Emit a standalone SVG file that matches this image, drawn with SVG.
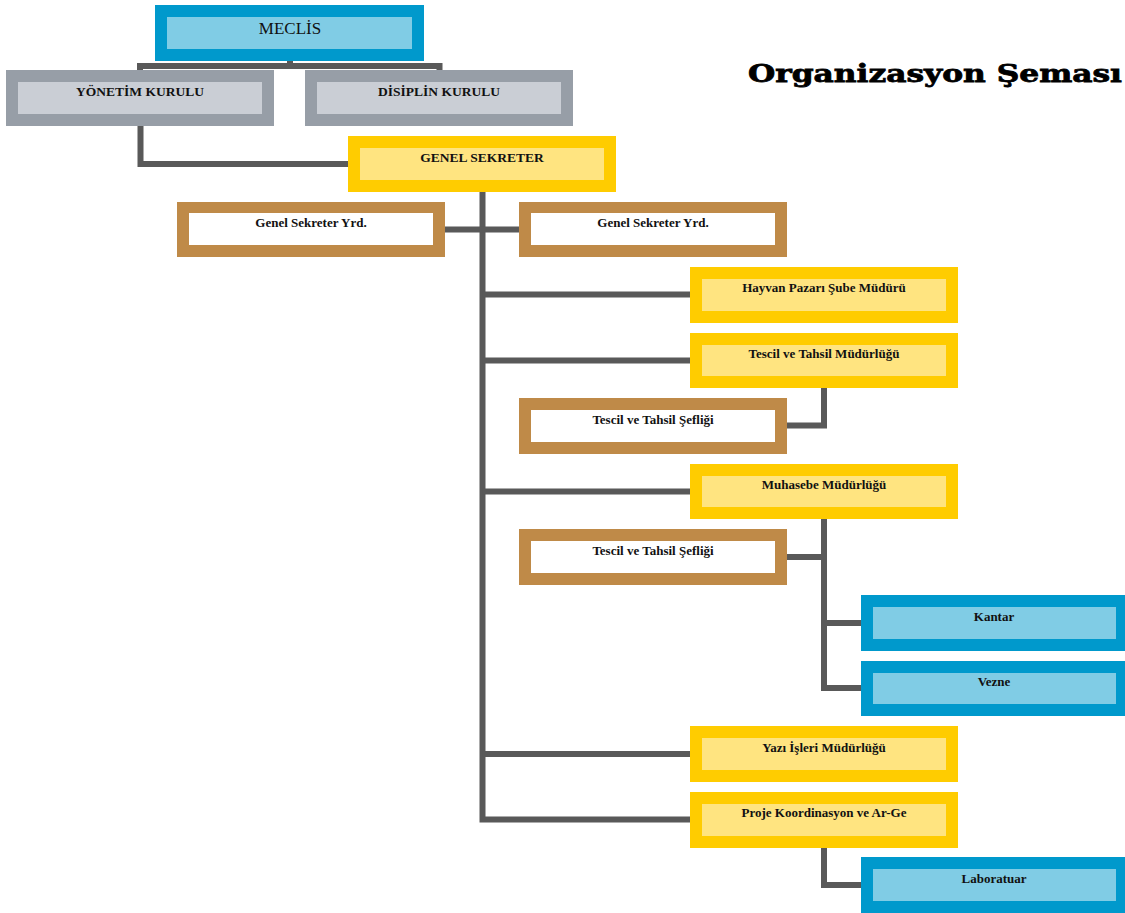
<svg xmlns="http://www.w3.org/2000/svg" width="1125" height="913" viewBox="0 0 1125 913">
<style>
.bg{fill:#ffffff}
.ob{fill:#0099CC}.ib{fill:#80CCE5}
.og{fill:#979EA7}.ig{fill:#CACED5}
.oy{fill:#FFCC00}.iy{fill:#FFE480}
.ow{fill:#BF8A48}.iw{fill:#ffffff}
.t{font-family:"Liberation Serif","Times New Roman",serif;font-weight:bold;font-size:13px;fill:#111;text-anchor:middle}
.tl{font-size:13.5px}
.tm{font-family:"Liberation Serif","Times New Roman",serif;font-size:17px;fill:#111;text-anchor:middle}
.c{fill:none;stroke:#595959;stroke-width:6;stroke-linecap:butt;stroke-linejoin:miter}
.title{font-family:"DejaVu Serif","Liberation Serif",serif;font-weight:bold;font-size:25px;fill:#000;stroke:#000;stroke-width:0.8}
</style>
<rect class="bg" x="0" y="0" width="1125" height="913"/>
<g id="connectors">
<path class="c" d="M140,70 V66 H439.5 V70"/>
<path class="c" d="M290,61 V66"/>
<path class="c" d="M140.5,126 V164 H348"/>
<path class="c" d="M482.5,192 V819.5 H690"/>
<path class="c" d="M445,229.5 H519"/>
<path class="c" d="M482.5,294.5 H690"/>
<path class="c" d="M482.5,360.5 H690"/>
<path class="c" d="M482.5,491.5 H690"/>
<path class="c" d="M482.5,754 H690"/>
<path class="c" d="M824,388 V425.5 H787"/>
<path class="c" d="M824,519 V688 H861"/>
<path class="c" d="M787,557 H824"/>
<path class="c" d="M824,623 H861"/>
<path class="c" d="M824,848 V885 H861"/>
</g>
<g id="meclis"><rect class="ob" x="155" y="5" width="269" height="56"/><rect class="ib" x="167" y="17" width="245" height="32"/><text class="tm" x="290" y="34">MECLİS</text></g>
<g id="yonetim"><rect class="og" x="6" y="70" width="268" height="56"/><rect class="ig" x="18" y="82" width="244" height="32"/><text class="t tl" x="140" y="95.5">YÖNETİM KURULU</text></g>
<g id="disiplin"><rect class="og" x="305" y="70" width="268" height="56"/><rect class="ig" x="317" y="82" width="244" height="32"/><text class="t tl" x="439" y="95.5">DİSİPLİN KURULU</text></g>
<g id="genel"><rect class="oy" x="348" y="136" width="268" height="56"/><rect class="iy" x="360" y="148" width="244" height="32"/><text class="t tl" x="482" y="161.5">GENEL SEKRETER</text></g>
<g id="yrd1"><rect class="ow" x="177" y="202" width="268" height="55"/><rect class="iw" x="189" y="213" width="244" height="32"/><text class="t" x="311" y="227">Genel Sekreter Yrd.</text></g>
<g id="yrd2"><rect class="ow" x="519" y="202" width="268" height="55"/><rect class="iw" x="531" y="213" width="244" height="32"/><text class="t" x="653" y="227">Genel Sekreter Yrd.</text></g>
<g id="hayvan"><rect class="oy" x="690" y="267" width="268" height="56"/><rect class="iy" x="702" y="279" width="244" height="32"/><text class="t" x="824" y="292">Hayvan Pazarı Şube Müdürü</text></g>
<g id="tescilmud"><rect class="oy" x="690" y="333" width="268" height="55"/><rect class="iy" x="702" y="345" width="244" height="31"/><text class="t" x="824" y="358">Tescil ve Tahsil Müdürlüğü</text></g>
<g id="tescilsef1"><rect class="ow" x="519" y="398" width="268" height="56"/><rect class="iw" x="531" y="410" width="244" height="32"/><text class="t" x="653" y="424">Tescil ve Tahsil Şefliği</text></g>
<g id="muhasebe"><rect class="oy" x="690" y="464" width="268" height="55"/><rect class="iy" x="702" y="476" width="244" height="31"/><text class="t" x="824" y="489">Muhasebe Müdürlüğü</text></g>
<g id="tescilsef2"><rect class="ow" x="519" y="529" width="268" height="56"/><rect class="iw" x="531" y="541" width="244" height="32"/><text class="t" x="653" y="555">Tescil ve Tahsil Şefliği</text></g>
<g id="kantar"><rect class="ob" x="861" y="595" width="264" height="56"/><rect class="ib" x="873" y="607" width="243" height="32"/><text class="t" x="994" y="620.5">Kantar</text></g>
<g id="vezne"><rect class="ob" x="861" y="661" width="264" height="55"/><rect class="ib" x="873" y="673" width="243" height="31"/><text class="t" x="994" y="686">Vezne</text></g>
<g id="yazi"><rect class="oy" x="690" y="726" width="268" height="56"/><rect class="iy" x="702" y="738" width="244" height="32"/><text class="t" x="824" y="751.5">Yazı İşleri Müdürlüğü</text></g>
<g id="proje"><rect class="oy" x="690" y="792" width="268" height="56"/><rect class="iy" x="702" y="804" width="244" height="32"/><text class="t" x="824" y="817">Proje Koordinasyon ve Ar-Ge</text></g>
<g id="lab"><rect class="ob" x="861" y="857" width="264" height="56"/><rect class="ib" x="873" y="869" width="243" height="32"/><text class="t" x="994" y="883">Laboratuar</text></g>
<g id="title"><text class="title" x="748" y="82" textLength="374" lengthAdjust="spacingAndGlyphs">Organizasyon Şeması</text></g>
</svg>
